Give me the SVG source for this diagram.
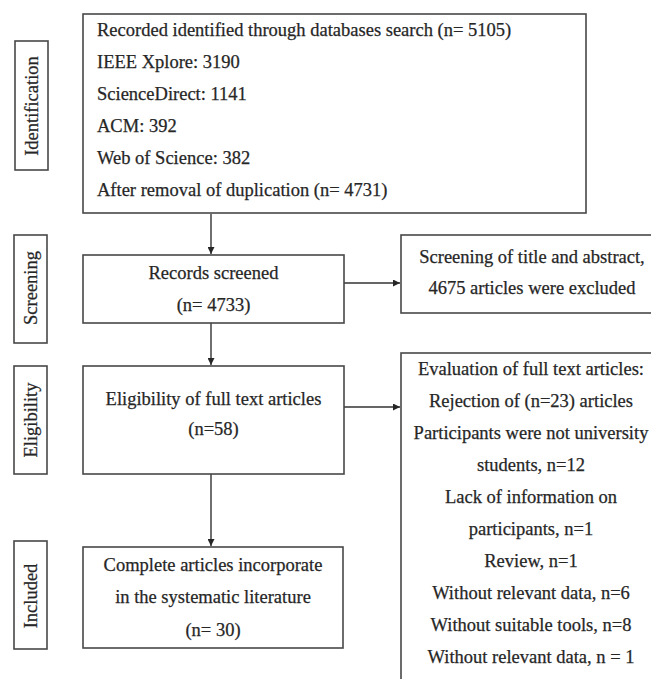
<svg xmlns="http://www.w3.org/2000/svg" width="651" height="679" viewBox="0 0 651 679">
<style>
.box{fill:#fff;stroke:#484848;stroke-width:1.6}
.t{font-family:"Liberation Serif","Times New Roman",serif;font-size:18.5px;fill:#262626;stroke:#262626;stroke-width:0.25}
.c{text-anchor:middle}
.ln{stroke:#333;stroke-width:1.4;fill:none}
</style>
<defs>
<marker id="ah" viewBox="0 0 10 10" refX="10" refY="5" markerWidth="7" markerHeight="7" markerUnits="userSpaceOnUse" orient="auto">
<path d="M0,0 L10,5 L0,10 Z" fill="#262626"/>
</marker>
</defs>
<rect width="651" height="679" fill="#fff"/>

<g id="connectors">
<line class="ln" x1="211" y1="214" x2="211" y2="254" marker-end="url(#ah)"/>
<line class="ln" x1="211" y1="323" x2="211" y2="365" marker-end="url(#ah)"/>
<line class="ln" x1="211" y1="474" x2="211" y2="546" marker-end="url(#ah)"/>
<line class="ln" x1="344" y1="283" x2="400" y2="283" marker-end="url(#ah)"/>
<line class="ln" x1="344" y1="407" x2="400" y2="407" marker-end="url(#ah)"/>
</g>

<g id="label-identification">
<rect class="box" x="15" y="41" width="33" height="129"/>
<text class="t c" transform="translate(37.5,106) rotate(-90)">Identification</text>
</g>
<g id="label-screening">
<rect class="box" x="14" y="235" width="33" height="108"/>
<text class="t c" transform="translate(36.5,288) rotate(-90)">Screening</text>
</g>
<g id="label-eligibility">
<rect class="box" x="14" y="366" width="33" height="108"/>
<text class="t c" transform="translate(36.5,420) rotate(-90)">Eligibility</text>
</g>
<g id="label-included">
<rect class="box" x="14" y="541" width="33" height="108"/>
<text class="t c" transform="translate(37,596) rotate(-90)">Included</text>
</g>

<g id="identified">
<rect class="box" x="83" y="14" width="503" height="199"/>
<text class="t" x="97" y="36">Recorded identified through databases search (n= 5105)</text>
<text class="t" x="97" y="68">IEEE Xplore: 3190</text>
<text class="t" x="97" y="100">ScienceDirect: 1141</text>
<text class="t" x="97" y="132">ACM: 392</text>
<text class="t" x="97" y="164">Web of Science: 382</text>
<text class="t" x="97" y="196">After removal of duplication (n= 4731)</text>
</g>

<g id="screened">
<rect class="box" x="83" y="255" width="261" height="68"/>
<text class="t c" x="213.5" y="279">Records screened</text>
<text class="t c" x="213.5" y="311">(n= 4733)</text>
</g>

<g id="excluded-screening">
<rect class="box" x="401" y="235" width="263" height="78"/>
<text class="t c" x="532" y="263">Screening of title and abstract,</text>
<text class="t c" x="532" y="294">4675 articles were excluded</text>
</g>

<g id="eligibility">
<rect class="box" x="83" y="366" width="261" height="108"/>
<text class="t c" x="213.5" y="405">Eligibility of full text articles</text>
<text class="t c" x="213.5" y="435">(n=58)</text>
</g>

<g id="excluded-eligibility">
<rect class="box" x="401" y="353" width="263" height="340"/>
<text class="t c" x="531" y="375">Evaluation of full text articles:</text>
<text class="t c" x="531" y="407">Rejection of (n=23) articles</text>
<text class="t c" x="531" y="439">Participants were not university</text>
<text class="t c" x="531" y="471">students, n=12</text>
<text class="t c" x="531" y="503">Lack of information on</text>
<text class="t c" x="531" y="535">participants, n=1</text>
<text class="t c" x="531" y="567">Review, n=1</text>
<text class="t c" x="531" y="599">Without relevant data, n=6</text>
<text class="t c" x="531" y="631">Without suitable tools, n=8</text>
<text class="t c" x="531" y="663">Without relevant data, n = 1</text>
</g>

<g id="included">
<rect class="box" x="83" y="547" width="260" height="101"/>
<text class="t c" x="213" y="571">Complete articles incorporate</text>
<text class="t c" x="213" y="603">in the systematic literature</text>
<text class="t c" x="213" y="636">(n= 30)</text>
</g>
</svg>
